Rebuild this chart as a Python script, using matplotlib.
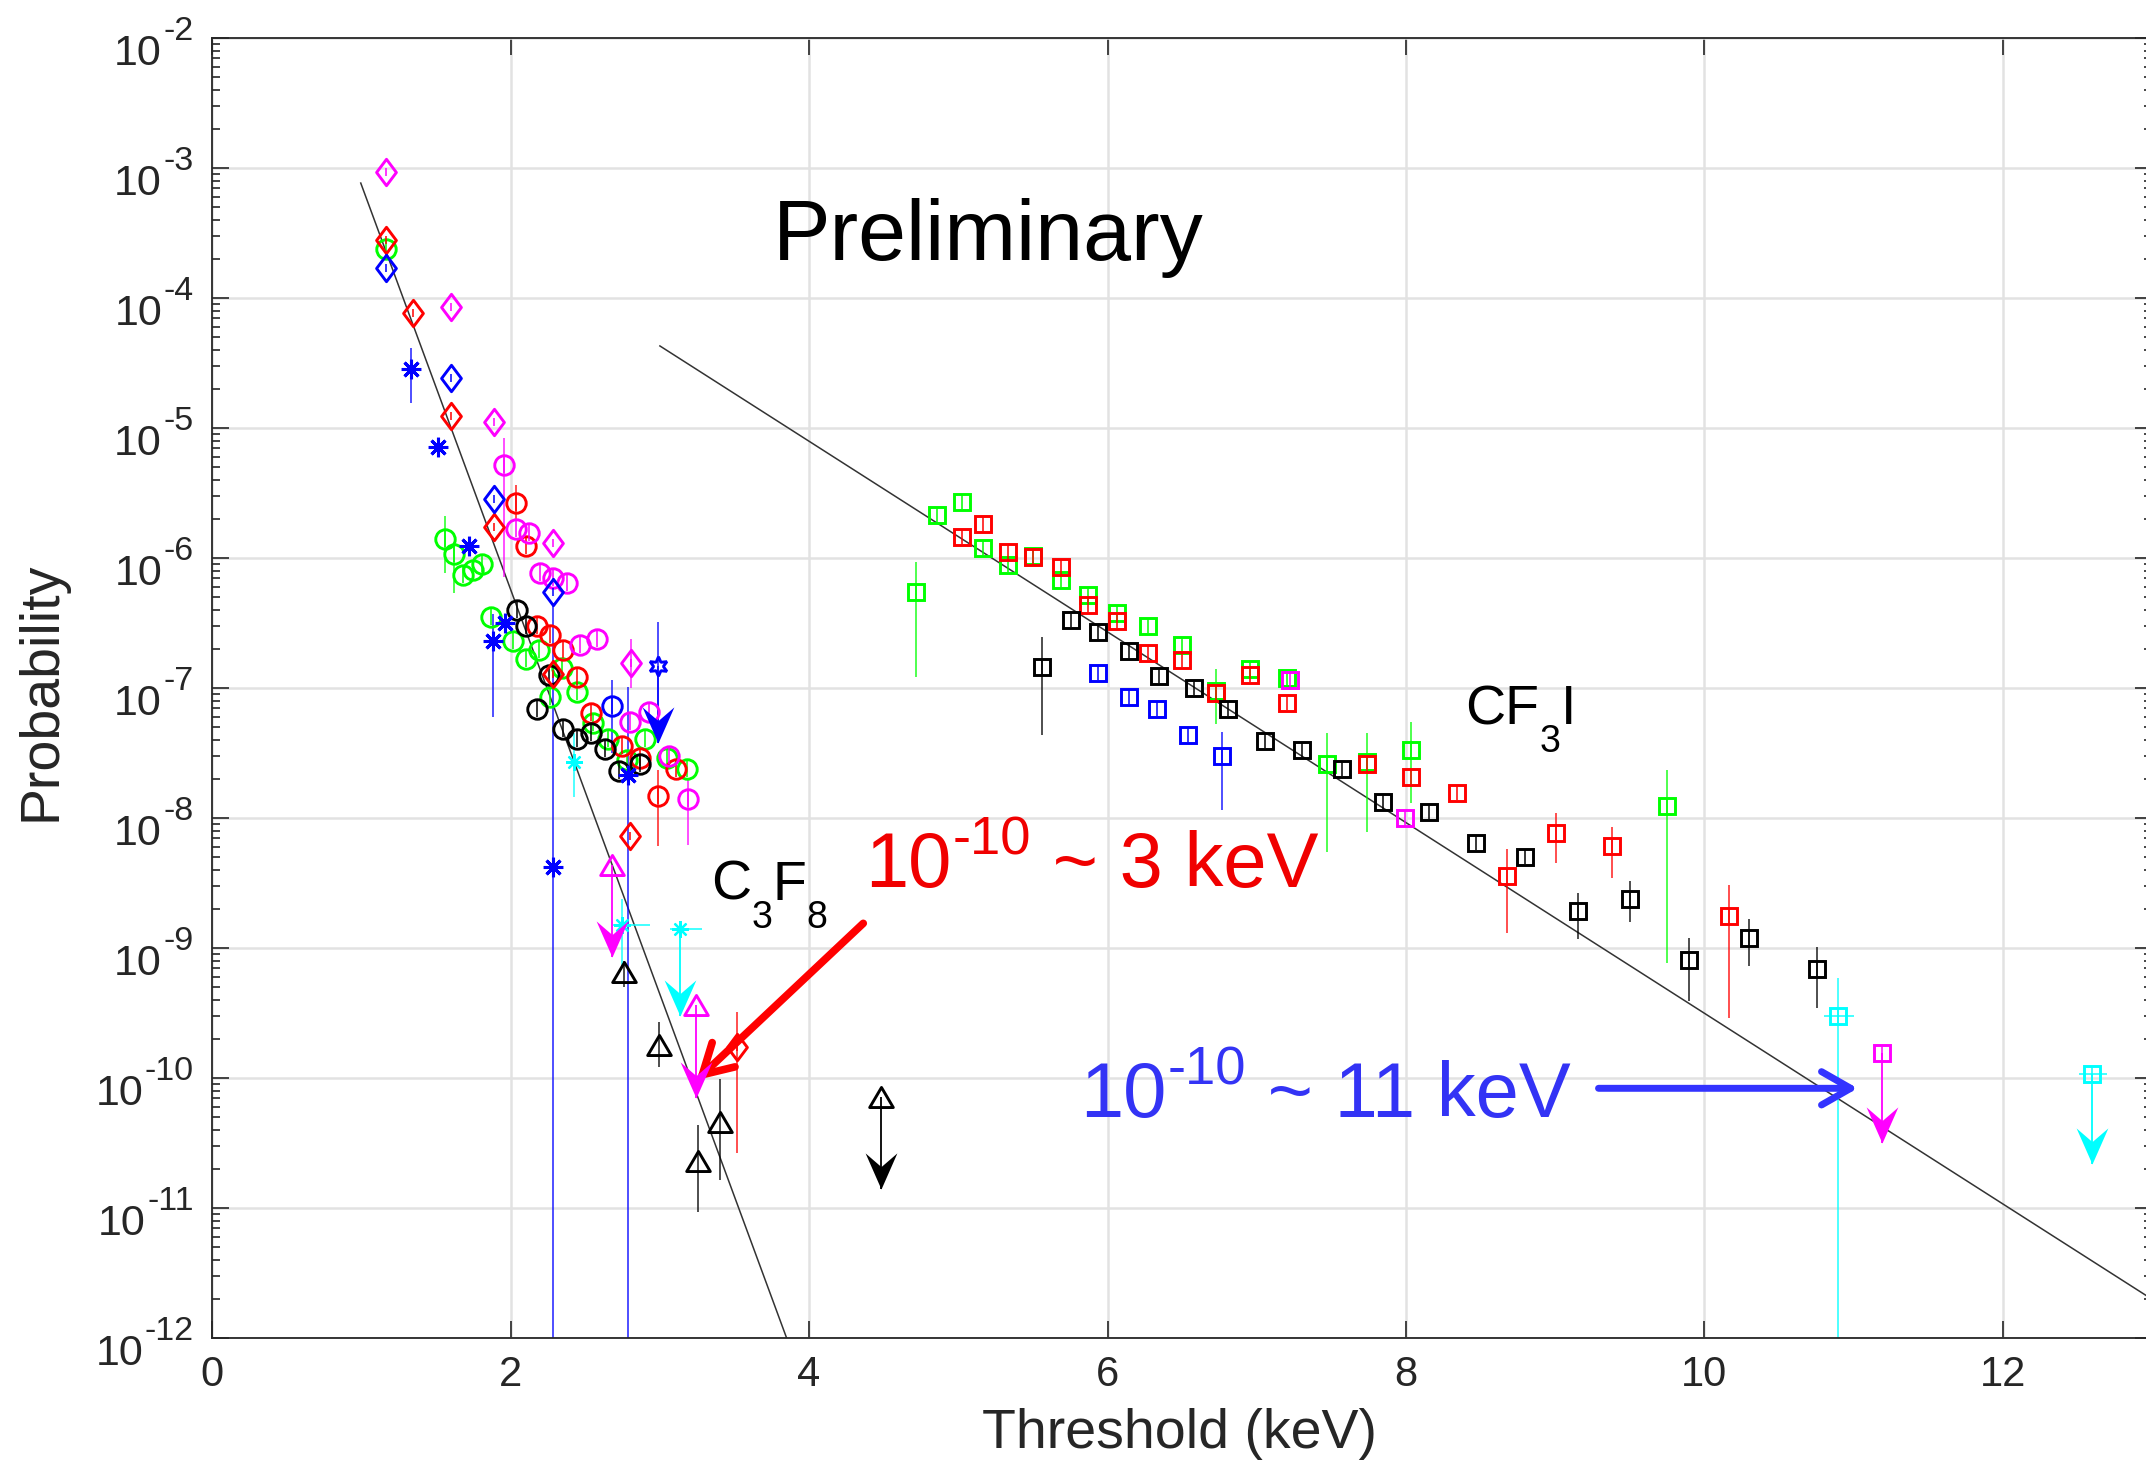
import matplotlib.pyplot as plt
from matplotlib.path import Path
from matplotlib.ticker import LogLocator, NullFormatter, FixedLocator

plt.rcParams["font.family"] = ["Liberation Sans", "DejaVu Sans"]
plt.rcParams["mathtext.default"] = "regular"

GREEN, RED, BLUE = "#00ff00", "#ff0000", "#0000ff"
MAGENTA, CYAN, BLACK = "#ff00ff", "#00ffff", "#000000"
AXIS = "#262626"

# ---- C3F8 data (keV, probability) ----
dia_magenta_x = [1.164, 1.598, 1.890, 2.281, 2.804]
dia_magenta_y = [9.4e-4, 8.5e-5, 1.12e-5, 1.32e-6, 1.56e-7]
dia_red_x = [1.164, 1.347, 1.598, 1.890, 2.281, 2.800, 3.515]
dia_red_y = [2.8e-4, 7.7e-5, 1.24e-5, 1.75e-6, 1.29e-7, 7.3e-9, 1.75e-10]
dia_blue_x = [1.164, 1.598, 1.890, 2.281]
dia_blue_y = [1.7e-4, 2.43e-5, 2.84e-6, 5.5e-7]

circ_green_x = [1.164, 1.56, 1.62, 1.682, 1.745, 1.806, 1.866, 2.018, 2.103, 2.192,
                2.263, 2.342, 2.446, 2.554, 2.654, 2.777, 2.90, 3.05, 3.18]
circ_green_y = [2.4e-4, 1.4e-6, 1.08e-6, 7.4e-7, 8.2e-7, 9.0e-7, 3.56e-7, 2.3e-7, 1.67e-7, 1.97e-7,
                8.6e-8, 1.43e-7, 9.4e-8, 5.4e-8, 4.1e-8, 2.8e-8, 4.1e-8, 2.9e-8, 2.4e-8]
circ_red_x = [2.033, 2.10, 2.178, 2.263, 2.348, 2.446, 2.536, 2.744, 2.867, 2.989, 3.108]
circ_red_y = [2.68e-6, 1.24e-6, 3.0e-7, 2.57e-7, 1.97e-7, 1.23e-7, 6.4e-8, 3.6e-8, 2.9e-8, 1.49e-8, 2.4e-8]
circ_magenta_x = [1.955, 2.033, 2.123, 2.196, 2.286, 2.375, 2.464, 2.576, 2.80, 2.927, 3.06, 3.19]
circ_magenta_y = [5.2e-6, 1.67e-6, 1.56e-6, 7.7e-7, 7.0e-7, 6.5e-7, 2.15e-7, 2.4e-7, 5.5e-8, 6.6e-8, 3.0e-8, 1.4e-8]
circ_black_x = [2.04, 2.10, 2.178, 2.259, 2.348, 2.442, 2.536, 2.632, 2.728, 2.867]
circ_black_y = [4.0e-7, 3.0e-7, 6.9e-8, 1.26e-7, 4.9e-8, 4.1e-8, 4.5e-8, 3.4e-8, 2.3e-8, 2.6e-8]
circ_blue_x = [2.677]
circ_blue_y = [7.3e-8]

ast_blue_x = [1.332, 1.515, 1.723, 1.883, 1.962, 2.281, 2.784]
ast_blue_y = [2.84e-5, 7.2e-6, 1.25e-6, 2.3e-7, 3.16e-7, 4.2e-9, 2.15e-8]
hex_blue_x = [2.989]
hex_blue_y = [1.49e-7]
ast_cyan_x = [2.424, 2.744, 3.135]
ast_cyan_y = [2.7e-8, 1.5e-9, 1.4e-9]

tri_magenta_x = [2.677, 3.24]
tri_magenta_y = [4.4e-9, 3.66e-10]
tri_black_x = [2.762, 2.994, 3.257, 3.403, 4.482]
tri_black_y = [6.6e-10, 1.8e-10, 2.3e-11, 4.6e-11, 7.2e-11]

# ---- CF3I data ----
sq_green_x = [4.717, 4.855, 5.023, 5.168, 5.335, 5.503, 5.686, 5.871, 6.062, 6.269,
              6.497, 6.725, 6.955, 7.201, 7.469, 7.741, 8.034, 9.752]
sq_green_y = [5.5e-7, 2.15e-6, 2.7e-6, 1.19e-6, 8.9e-7, 1.05e-6, 6.8e-7, 5.2e-7, 3.8e-7, 3.0e-7,
              2.15e-7, 9.6e-8, 1.4e-7, 1.19e-7, 2.6e-8, 2.7e-8, 3.35e-8, 1.25e-8]
sq_red_x = [5.023, 5.168, 5.335, 5.503, 5.686, 5.871, 6.062, 6.269, 6.497, 6.725,
            6.955, 7.201, 7.741, 8.034, 8.345, 8.676, 9.006, 9.379, 10.168]
sq_red_y = [1.45e-6, 1.84e-6, 1.12e-6, 1.03e-6, 8.6e-7, 4.4e-7, 3.3e-7, 1.86e-7, 1.65e-7, 9.2e-8,
            1.27e-7, 7.7e-8, 2.6e-8, 2.06e-8, 1.57e-8, 3.6e-9, 7.7e-9, 6.1e-9, 1.77e-9]
sq_black_x = [5.563, 5.753, 5.938, 6.146, 6.347, 6.582, 6.806, 7.056, 7.306, 7.574,
              7.845, 8.157, 8.47, 8.798, 9.156, 9.502, 9.90, 10.30, 10.753]
sq_black_y = [1.47e-7, 3.35e-7, 2.7e-7, 1.94e-7, 1.25e-7, 1.0e-7, 6.9e-8, 3.9e-8, 3.35e-8, 2.4e-8,
              1.34e-8, 1.12e-8, 6.5e-9, 5.0e-9, 1.95e-9, 2.4e-9, 8.1e-10, 1.19e-9, 6.9e-10]
sq_blue_x = [5.938, 6.146, 6.33, 6.538, 6.766]
sq_blue_y = [1.32e-7, 8.6e-8, 6.9e-8, 4.4e-8, 3.0e-8]
sq_magenta_x = [7.223, 7.994, 11.189]
sq_magenta_y = [1.16e-7, 1.0e-8, 1.57e-10]
sq_cyan_x = [10.898, 12.598]
sq_cyan_y = [3.0e-10, 1.08e-10]

# visible vertical error bars: x, low, high, colour
bar_x = [1.332, 1.955, 2.033, 1.56, 1.62, 1.883, 2.281, 2.784, 2.677, 2.989, 3.19, 2.424,
         2.804, 2.744, 2.762, 2.994, 3.403, 3.257, 3.515, 2.989,
         4.717, 7.469, 7.741, 8.034, 9.752, 6.725, 8.676, 9.006, 9.379, 10.168,
         5.563, 9.90, 10.753, 9.156, 9.502, 10.30, 6.766, 10.898]
bar_lo = [1.57e-5, 7.2e-7, 1.97e-6, 7.7e-7, 5.4e-7, 6.0e-8, 1e-13, 1e-13, 3.2e-8, 6.1e-9, 6.2e-9, 1.47e-8,
          1.0e-7, 7.2e-10, 5.0e-10, 1.23e-10, 1.65e-11, 9.4e-12, 2.65e-11, 1.49e-7,
          1.23e-7, 5.5e-9, 7.9e-9, 1.3e-8, 7.7e-10, 5.3e-8, 1.3e-9, 4.5e-9, 3.5e-9, 2.9e-10,
          4.4e-8, 3.9e-10, 3.5e-10, 1.17e-9, 1.6e-9, 7.3e-10, 1.16e-8, 1e-13]
bar_hi = [4.12e-5, 8.4e-6, 3.66e-6, 2.1e-6, 1.3e-6, 3.7e-7, 4.5e-7, 1.03e-7, 1.16e-7, 2.36e-8, 2.0e-8, 4.5e-8,
          2.4e-7, 2.4e-9, 8.0e-10, 2.72e-10, 9.8e-11, 4.4e-11, 3.25e-10, 3.25e-7,
          9.4e-7, 4.5e-8, 4.56e-8, 5.5e-8, 2.36e-8, 1.4e-7, 5.8e-9, 1.09e-8, 8.6e-9, 3.07e-9,
          2.5e-7, 1.19e-9, 1.03e-9, 2.67e-9, 3.3e-9, 1.67e-9, 4.6e-8, 5.9e-10]
bar_color = [BLUE, MAGENTA, RED, GREEN, GREEN, BLUE, BLUE, BLUE, BLUE, RED, MAGENTA, CYAN,
             MAGENTA, CYAN, BLACK, BLACK, BLACK, BLACK, RED, BLUE,
             GREEN, GREEN, GREEN, GREEN, GREEN, GREEN, RED, RED, RED, RED,
             BLACK, BLACK, BLACK, BLACK, BLACK, BLACK, BLUE, CYAN]

# horizontal error bars: y, x from, x to
hbar_y = [1.5e-9, 1.4e-9, 3.0e-10, 1.08e-10]
hbar_x0 = [2.688, 3.068, 10.804, 12.51]
hbar_x1 = [2.934, 3.28, 11.0, 12.70]

# upper limits: x, start, arrow tip, colour
ul_x = [2.989, 2.677, 3.135, 3.24, 4.482, 11.189, 12.598]
ul_top = [1.49e-7, 4.4e-9, 1.4e-9, 3.66e-10, 7.2e-11, 1.57e-10, 1.08e-10]
ul_tip = [3.8e-8, 8.6e-10, 3.0e-10, 7.0e-11, 1.4e-11, 3.2e-11, 2.2e-11]
ul_color = [BLUE, MAGENTA, CYAN, MAGENTA, BLACK, MAGENTA, CYAN]

# fit lines (end points)
c3f8_fit_x = [0.995, 3.85]
c3f8_fit_y = [7.7e-4, 1e-12]
cf3i_fit_x = [3.0, 13.0]
cf3i_fit_y = [4.3e-5, 2.0e-12]

y_exponents = list(range(-12, -1))

diamond = Path([(0, 1), (0.75, 0), (0, -1), (-0.75, 0), (0, 1)], closed=True)
triangle = Path([(0, 0.85), (1, -0.85), (-1, -0.85), (0, 0.85)], closed=True)
arrowhead = Path([(0, 0), (0.44, 1), (0, 0.62), (-0.44, 1), (0, 0)], closed=True)

fig = plt.figure(figsize=(21.46, 14.63), dpi=100)
ax = fig.add_axes([212.3 / 2146, 1 - 1338.3 / 1463, 13 * 149.2 / 2146, 1300 / 1463])
ax.set_yscale("log")
ax.set_xlim(0, 13)
ax.set_ylim(1e-12, 1e-2)


def pts(x, y, color, marker, ms, tick=0.8, mew=2.1):
    ax.plot(x, y, ls="none", marker=marker, ms=ms, mfc="none", mec=color, mew=mew, zorder=3)
    if tick:
        ax.plot(x, y, ls="none", marker="|", ms=ms * tick, mec=color, mew=1.1, zorder=3)


def chem(x, y, parts, fs=40, sub_fs=27, drop=20):
    # formula with big, low MATLAB-style subscripts
    prev = ax.text(x, y, parts[0], fontsize=fs, va="baseline")
    for i, s in enumerate(parts[1:]):
        sub = i % 2 == 0
        prev = ax.annotate(s, xy=(1, y), xycoords=(prev, "data"),
                           xytext=(0, -drop if sub else 0), textcoords="offset points",
                           fontsize=sub_fs if sub else fs, va="baseline", ha="left")


def sup_text(x, y, base, exp, rest, color, fs=56):
    t = ax.text(x, y, base, fontsize=fs, color=color, va="baseline")
    t = ax.annotate(exp, xy=(1, y), xycoords=(t, "data"), xytext=(1, 0.42 * fs),
                    textcoords="offset points", fontsize=0.7 * fs, color=color, va="baseline")
    ax.annotate(rest, xy=(1, y), xycoords=(t, "data"), fontsize=fs, color=color, va="baseline")


ax.plot(c3f8_fit_x, c3f8_fit_y, color="#333333", lw=1.1, zorder=2)
ax.plot(cf3i_fit_x, cf3i_fit_y, color="#333333", lw=1.1, zorder=2)

ax.vlines(bar_x, bar_lo, bar_hi, colors=bar_color, lw=1.3, alpha=0.75, zorder=2)
ax.hlines(hbar_y, hbar_x0, hbar_x1, colors=CYAN, lw=1.3, alpha=0.8, zorder=2)
ax.vlines(ul_x, ul_tip, ul_top, colors=ul_color, lw=1.3, zorder=2)
for x, y, c in zip(ul_x, ul_tip, ul_color):
    ax.plot(x, y, marker=arrowhead, ms=52, color=c, mew=0, zorder=4)

pts(circ_green_x, circ_green_y, GREEN, "o", 14)
pts(circ_red_x, circ_red_y, RED, "o", 14)
pts(circ_magenta_x, circ_magenta_y, MAGENTA, "o", 14)
pts(circ_black_x, circ_black_y, BLACK, "o", 14)
pts(circ_blue_x, circ_blue_y, BLUE, "o", 14)
pts(dia_magenta_x, dia_magenta_y, MAGENTA, diamond, 19, tick=0.3)
pts(dia_red_x, dia_red_y, RED, diamond, 19, tick=0.3)
pts(dia_blue_x, dia_blue_y, BLUE, diamond, 19, tick=0.3)
pts(ast_blue_x, ast_blue_y, BLUE, (8, 2, 0), 14, tick=0, mew=2.2)
pts(ast_cyan_x, ast_cyan_y, CYAN, (8, 2, 0), 12, tick=0, mew=1.6)
pts(hex_blue_x, hex_blue_y, BLUE, (6, 1, 0), 14, tick=0)
pts(tri_magenta_x, tri_magenta_y, MAGENTA, triangle, 17, tick=0)
pts(tri_black_x, tri_black_y, BLACK, triangle, 17, tick=0)
pts(sq_green_x, sq_green_y, GREEN, "s", 12)
pts(sq_red_x, sq_red_y, RED, "s", 12)
pts(sq_black_x, sq_black_y, BLACK, "s", 12)
pts(sq_blue_x, sq_blue_y, BLUE, "s", 12)
pts(sq_magenta_x, sq_magenta_y, MAGENTA, "s", 12)
pts(sq_cyan_x, sq_cyan_y, CYAN, "s", 12)

# axes styling
ax.xaxis.set_major_locator(FixedLocator([0, 2, 4, 6, 8, 10, 12]))
ax.yaxis.set_major_locator(LogLocator(base=10, numticks=20))
ax.yaxis.set_minor_locator(LogLocator(base=10, subs=range(2, 10), numticks=20))
ax.yaxis.set_minor_formatter(NullFormatter())
ax.set_axisbelow(True)
ax.grid(True, which="major", color="#e2e2e2", lw=1.8)
ax.tick_params(which="both", direction="in", top=True, right=True, colors=AXIS,
               labelsize=30, width=1.2)
ax.tick_params(which="major", length=12)
ax.tick_params(which="minor", length=6)
ax.tick_params(axis="x", pad=12)
ax.tick_params(axis="y", labelleft=False)
for s in ax.spines.values():
    s.set_color(AXIS)
    s.set_linewidth(1.3)

# MATLAB-style y tick labels: 10 with a large hyphen exponent
for e in y_exponents:
    exp = ax.annotate(str(e), xy=(0, 10.0 ** e), xycoords=("axes fraction", "data"),
                      xytext=(-13.5, -1.2), textcoords="offset points",
                      ha="right", va="baseline", fontsize=24.5, color=AXIS)
    ax.annotate("10", xy=(0, 10.0 ** e), xycoords=(exp, "data"),
                xytext=(-1, -19.2), textcoords="offset points",
                ha="right", va="baseline", fontsize=31, color=AXIS)

fig.text(41 / 2146, 1 - 691 / 1463, "Probability", rotation=90, ha="center", va="center",
         fontsize=40, color=AXIS)
fig.text(1180 / 2146, 15 / 1463, "Threshold (keV)", ha="center", va="baseline",
         fontsize=40, color=AXIS)

ax.text(3.76, 10 ** -3.705, "Preliminary", fontsize=62, va="baseline")
chem(3.345, 10 ** -8.628, ["C", "3", "F", "8"])
chem(8.40, 10 ** -7.275, ["CF", "3", "I"])
sup_text(4.375, 10 ** -8.53, "10", "-10", " ~ 3 keV", "#f00000")
sup_text(5.815, 10 ** -10.30, "10", "-10", " ~ 11 keV", "#3333f5")

ax.annotate("", xy=(3.247, 10 ** -10.013), xytext=(4.363, 10 ** -8.808),
            arrowprops=dict(arrowstyle="->,head_length=1.05,head_width=0.6", mutation_scale=20,
                            color="#ff0000", lw=5.5, shrinkA=0, shrinkB=0, capstyle="round"))
ax.annotate("", xy=(11.028, 10 ** -10.077), xytext=(9.291, 10 ** -10.077),
            arrowprops=dict(arrowstyle="->,head_length=1.05,head_width=0.6", mutation_scale=20,
                            color="#3333ff", lw=5, shrinkA=0, shrinkB=0, capstyle="round"))

fig.savefig("out.png", dpi=100, facecolor="white")
